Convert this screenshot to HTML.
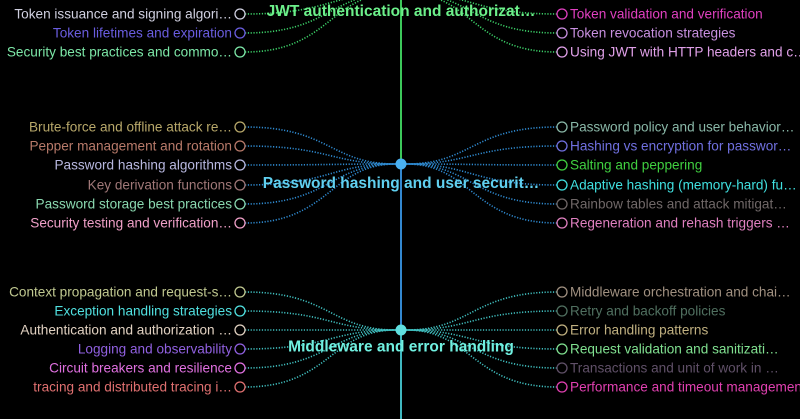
<!DOCTYPE html>
<html><head><meta charset="utf-8"><style>
html,body{margin:0;padding:0;background:#000;}
svg{display:block;}
text{font-family:"Liberation Sans",sans-serif;}
.l{font-size:13.6px;text-anchor:end;}
.r{font-size:13.6px;text-anchor:start;}
.t{font-size:15.5px;font-weight:bold;text-anchor:middle;}
path{fill:none;stroke-width:1.6;stroke-dasharray:1.2 1.6;}
circle.c{fill:none;stroke-width:1.3;}
</style></head><body>
<svg width="800" height="419" viewBox="0 0 800 419">
<line x1="401" y1="0" x2="401" y2="164" stroke="#3cc85a" stroke-width="2"/>
<line x1="401" y1="164" x2="401" y2="330" stroke="#3388d0" stroke-width="2"/>
<line x1="401" y1="330" x2="401" y2="419" stroke="#40b8c0" stroke-width="2"/>

<!-- JWT -->
<g stroke="#3cd068">
<path d="M245,-44 C330,-44 330,-7 396,-7"/><path d="M245,-25 C330,-25 330,-7 396,-7"/><path d="M245,-5 C330,-5 330,-7 396,-7"/>
<path d="M245,14 C330,14 330,-7 396,-7"/><path d="M245,33 C330,33 330,-7 396,-7"/><path d="M245,52 C330,52 330,-7 396,-7"/>
<path d="M557,-44 C472,-44 472,-7 406,-7"/><path d="M557,-25 C472,-25 472,-7 406,-7"/><path d="M557,-5 C472,-5 472,-7 406,-7"/>
<path d="M557,14 C472,14 472,-7 406,-7"/><path d="M557,33 C472,33 472,-7 406,-7"/><path d="M557,52 C472,52 472,-7 406,-7"/>
</g>
<circle class="c" cx="240" cy="14" r="5" stroke="#d0d0e0"/><circle class="c" cx="240" cy="33" r="5" stroke="#6a5de0"/><circle class="c" cx="240" cy="52" r="5" stroke="#7de8a8"/>
<circle class="c" cx="562" cy="14" r="5" stroke="#e040c0"/><circle class="c" cx="562" cy="33" r="5" stroke="#c890e0"/><circle class="c" cx="562" cy="52" r="5" stroke="#e0a0e8"/>
<text class="l" x="232" y="18.5" fill="#d0d0e0">Token issuance and signing algori…</text>
<text class="l" x="232" y="37.5" fill="#6a5de0">Token lifetimes and expiration</text>
<text class="l" x="232" y="56.5" fill="#7de8a8">Security best practices and commo…</text>
<text class="r" x="570" y="18.5" fill="#e040c0">Token validation and verification</text>
<text class="r" x="570" y="37.5" fill="#c890e0">Token revocation strategies</text>
<text class="r" x="570" y="56.5" fill="#e0a0e8">Using JWT with HTTP headers and c…</text>
<text class="t" x="401" y="16" fill="#6cf08a">JWT authentication and authorizat…</text>

<!-- Password -->
<g stroke="#2f8ad0">
<path d="M245,127 C330,127 330,164 396,164"/><path d="M245,146 C330,146 330,164 396,164"/><path d="M245,165 C330,165 330,164 396,164"/>
<path d="M245,185 C330,185 330,164 396,164"/><path d="M245,204 C330,204 330,164 396,164"/><path d="M245,223 C330,223 330,164 396,164"/>
<path d="M557,127 C472,127 472,164 406,164"/><path d="M557,146 C472,146 472,164 406,164"/><path d="M557,165 C472,165 472,164 406,164"/>
<path d="M557,185 C472,185 472,164 406,164"/><path d="M557,204 C472,204 472,164 406,164"/><path d="M557,223 C472,223 472,164 406,164"/>
</g>
<circle cx="401" cy="164" r="5.5" fill="#4ab0f0"/>
<circle class="c" cx="240" cy="127" r="5" stroke="#b8a86a"/><circle class="c" cx="240" cy="146" r="5" stroke="#b87a6a"/><circle class="c" cx="240" cy="165" r="5" stroke="#b8b8e0"/>
<circle class="c" cx="240" cy="185" r="5" stroke="#a07878"/><circle class="c" cx="240" cy="204" r="5" stroke="#8ad8b0"/><circle class="c" cx="240" cy="223" r="5" stroke="#f0a0c8"/>
<circle class="c" cx="562" cy="127" r="5" stroke="#8ab8a8"/><circle class="c" cx="562" cy="146" r="5" stroke="#7070e0"/><circle class="c" cx="562" cy="165" r="5" stroke="#40d040"/>
<circle class="c" cx="562" cy="185" r="5" stroke="#40e0e0"/><circle class="c" cx="562" cy="204" r="5" stroke="#706868"/><circle class="c" cx="562" cy="223" r="5" stroke="#e080c0"/>
<text class="l" x="232" y="131.5" fill="#b8a86a">Brute-force and offline attack re…</text>
<text class="l" x="232" y="150.5" fill="#b87a6a">Pepper management and rotation</text>
<text class="l" x="232" y="169.5" fill="#b8b8e0">Password hashing algorithms</text>
<text class="l" x="232" y="189.5" fill="#a07878">Key derivation functions</text>
<text class="l" x="232" y="208.5" fill="#8ad8b0">Password storage best practices</text>
<text class="l" x="232" y="227.5" fill="#f0a0c8">Security testing and verification…</text>
<text class="r" x="570" y="131.5" fill="#8ab8a8">Password policy and user behavior…</text>
<text class="r" x="570" y="150.5" fill="#7070e0">Hashing vs encryption for passwor…</text>
<text class="r" x="570" y="169.5" fill="#40d040">Salting and peppering</text>
<text class="r" x="570" y="189.5" fill="#40e0e0">Adaptive hashing (memory-hard) fu…</text>
<text class="r" x="570" y="208.5" fill="#706868">Rainbow tables and attack mitigat…</text>
<text class="r" x="570" y="227.5" fill="#e080c0">Regeneration and rehash triggers …</text>
<text class="t" x="401" y="188" fill="#60d0f0">Password hashing and user securit…</text>

<!-- Middleware -->
<g stroke="#40c0c0">
<path d="M245,292 C330,292 330,330 396,330"/><path d="M245,311 C330,311 330,330 396,330"/><path d="M245,330 C330,330 330,330 396,330"/>
<path d="M245,349 C330,349 330,330 396,330"/><path d="M245,368 C330,368 330,330 396,330"/><path d="M245,387 C330,387 330,330 396,330"/>
<path d="M557,292 C472,292 472,330 406,330"/><path d="M557,311 C472,311 472,330 406,330"/><path d="M557,330 C472,330 472,330 406,330"/>
<path d="M557,349 C472,349 472,330 406,330"/><path d="M557,368 C472,368 472,330 406,330"/><path d="M557,387 C472,387 472,330 406,330"/>
</g>
<circle cx="401" cy="330" r="5.5" fill="#60e0e0"/>
<circle class="c" cx="240" cy="292" r="5" stroke="#c0c890"/><circle class="c" cx="240" cy="311" r="5" stroke="#50e0e0"/><circle class="c" cx="240" cy="330" r="5" stroke="#e0d0c0"/>
<circle class="c" cx="240" cy="349" r="5" stroke="#9060e0"/><circle class="c" cx="240" cy="368" r="5" stroke="#e070e0"/><circle class="c" cx="240" cy="387" r="5" stroke="#e07070"/>
<circle class="c" cx="562" cy="292" r="5" stroke="#a09080"/><circle class="c" cx="562" cy="311" r="5" stroke="#507060"/><circle class="c" cx="562" cy="330" r="5" stroke="#c0b080"/>
<circle class="c" cx="562" cy="349" r="5" stroke="#80e090"/><circle class="c" cx="562" cy="368" r="5" stroke="#605068"/><circle class="c" cx="562" cy="387" r="5" stroke="#e040b0"/>
<text class="l" x="232" y="296.5" fill="#c0c890">Context propagation and request-s…</text>
<text class="l" x="232" y="315.5" fill="#50e0e0">Exception handling strategies</text>
<text class="l" x="232" y="334.5" fill="#e0d0c0">Authentication and authorization …</text>
<text class="l" x="232" y="353.5" fill="#9060e0">Logging and observability</text>
<text class="l" x="232" y="372.5" fill="#e070e0">Circuit breakers and resilience</text>
<text class="l" x="232" y="391.5" fill="#e07070">tracing and distributed tracing i…</text>
<text class="r" x="570" y="296.5" fill="#a09080">Middleware orchestration and chai…</text>
<text class="r" x="570" y="315.5" fill="#507060">Retry and backoff policies</text>
<text class="r" x="570" y="334.5" fill="#c0b080">Error handling patterns</text>
<text class="r" x="570" y="353.5" fill="#80e090">Request validation and sanitizati…</text>
<text class="r" x="570" y="372.5" fill="#605068">Transactions and unit of work in …</text>
<text class="r" x="570" y="391.5" fill="#e040b0">Performance and timeout management</text>
<text class="t" x="401" y="351.5" fill="#70f0e0">Middleware and error handling</text>
</svg>
</body></html>
